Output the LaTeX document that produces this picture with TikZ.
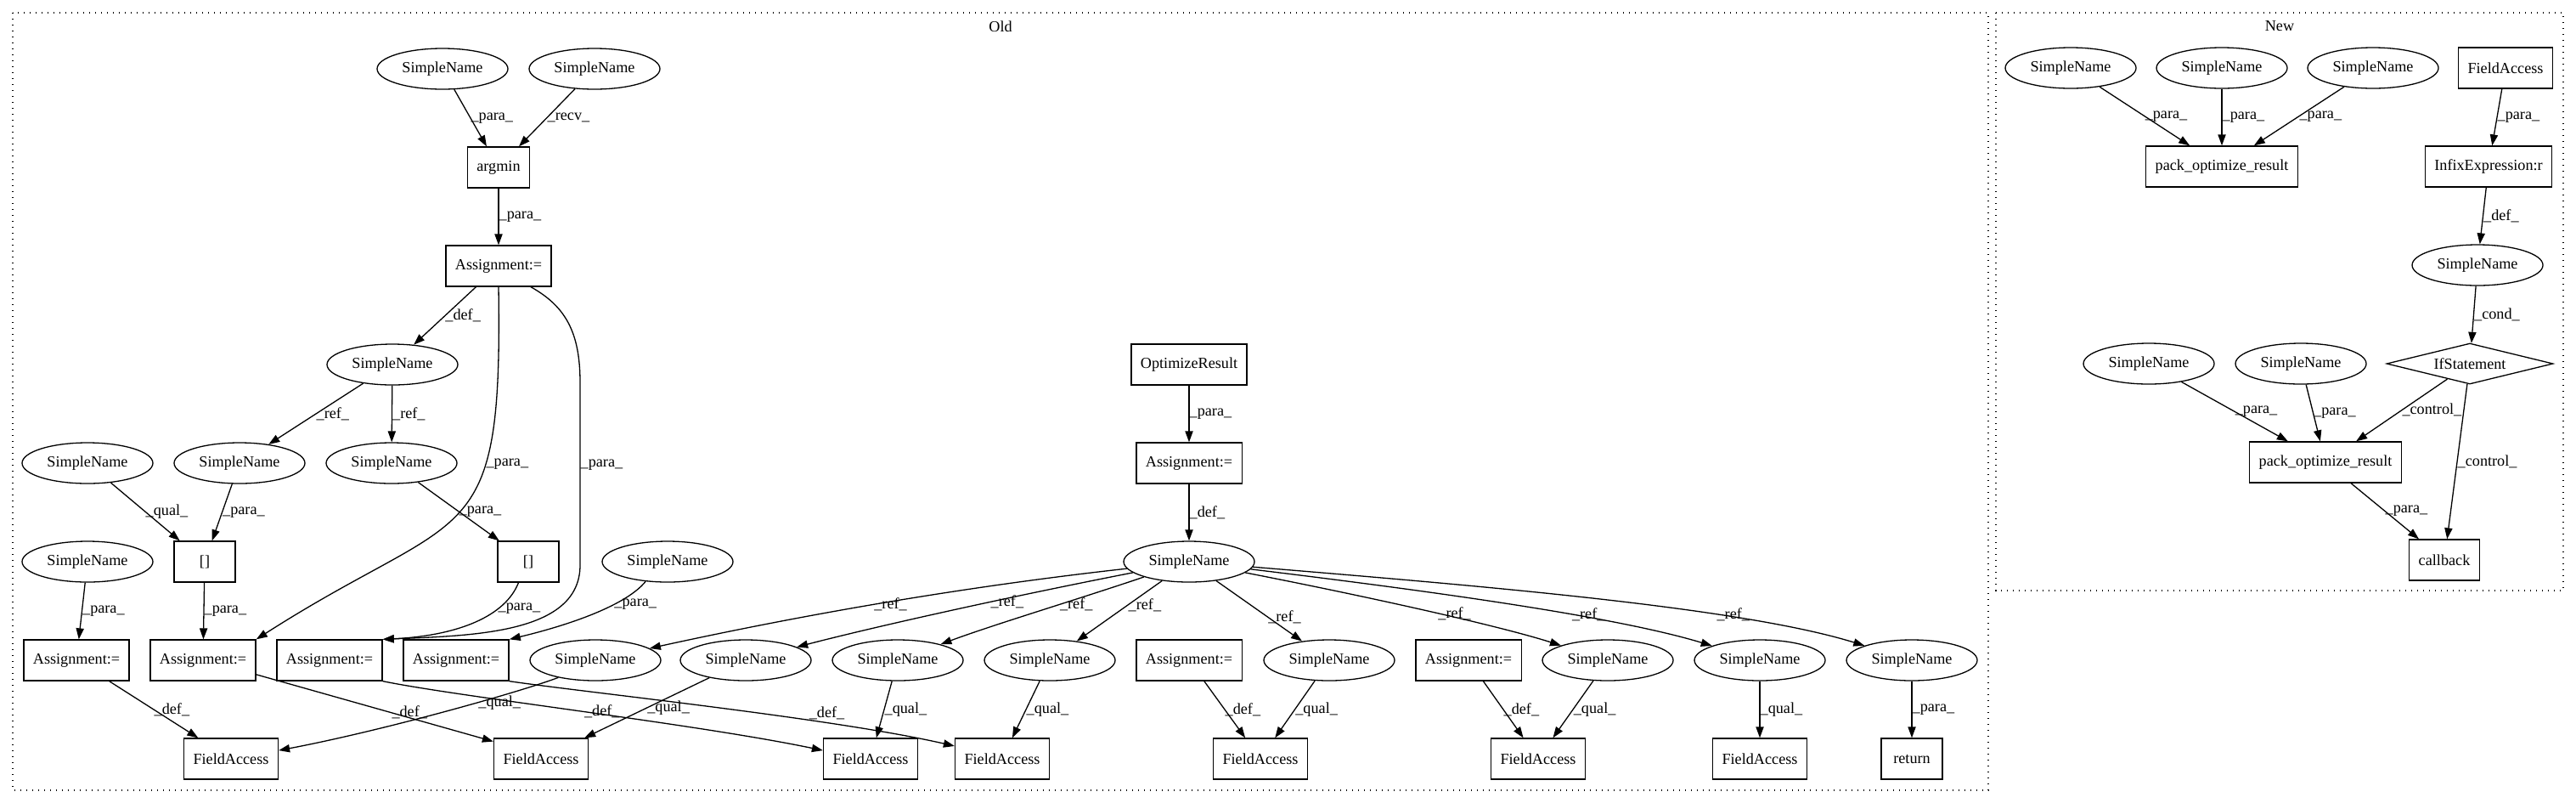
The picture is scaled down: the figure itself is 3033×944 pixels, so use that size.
\documentclass[tikz,border=0pt]{standalone}
\usepackage{fontspec}
\setmainfont{Liberation Serif}
\usetikzlibrary{arrows.meta, shapes.geometric}

\begin{document}
\begin{tikzpicture}[x=0.5pt, y=-0.5pt,
    every node/.style={font=\fontsize{9.1}{11}\selectfont},
    sn/.style={ellipse, draw, line width=0.65pt, minimum width=77pt, minimum height=24pt, inner sep=0pt},
    box/.style={rectangle, draw, line width=0.65pt, minimum width=36pt, minimum height=24pt, inner xsep=5.5pt, inner ysep=0pt},
    cond/.style={diamond, draw, line width=0.65pt, shape aspect=4, minimum width=98pt, minimum height=24pt, inner sep=0pt},
    arr/.style={-{Triangle[length=6.5pt, width=4.6pt]}, line width=0.65pt},
    lbl/.style={anchor=west, inner sep=0pt},
    cluster/.style={line width=0.65pt, dash pattern=on 0.7pt off 2.8pt}]

    \useasboundingbox (0,0) rectangle (3033,944);

    % Clusters
    \draw[cluster] (15,15) rectangle (2341,930);
    \draw[cluster] (2350,15) rectangle (3018,695);
    \node (oldTitle) at (1178,31) {Old};
    \node (newTitle) at (2684,31) {New};

    % Old: argmin part
    \node[sn] (snA) at (521,81) {SimpleName};
    \node[sn] (snB) at (700,81) {SimpleName};
    \node[box] (argmin) at (587,197) {argmin};
    \node[box] (asgTop) at (587,313) {Assignment:=};
    \node[sn] (snDef) at (462,429) {SimpleName};
    \node[sn] (snQual) at (103,545) {SimpleName};
    \node[sn] (snRefA) at (282,545) {SimpleName};
    \node[sn] (snRefB) at (461,545) {SimpleName};
    \node[sn] (snLeft) at (103,661) {SimpleName};
    \node[box] (idxA) at (241,661) {[]};
    \node[box] (idxB) at (622,661) {[]};
    \node[sn] (snRight) at (786,661) {SimpleName};
    \node[box] (aOne) at (90,777) {Assignment:=};
    \node[box] (aTwo) at (239,777) {Assignment:=};
    \node[box] (aThree) at (388,777) {Assignment:=};
    \node[box] (aFour) at (537,777) {Assignment:=};

    % Old: OptimizeResult part
    \node[box] (optRes) at (1400,429) {OptimizeResult};
    \node[box] (asgOpt) at (1400,545) {Assignment:=};
    \node[sn] (hub) at (1400,661) {SimpleName};
    \node[sn] (sOne) at (701,777) {SimpleName};
    \node[sn] (sTwo) at (878,777) {SimpleName};
    \node[sn] (sThree) at (1057,777) {SimpleName};
    \node[sn] (sFour) at (1236,777) {SimpleName};
    \node[box] (asgMid) at (1400,777) {Assignment:=};
    \node[sn] (sFive) at (1565,777) {SimpleName};
    \node[box] (asgRight) at (1729,777) {Assignment:=};
    \node[sn] (sSix) at (1893,777) {SimpleName};
    \node[sn] (sSeven) at (2072,777) {SimpleName};
    \node[sn] (sEight) at (2251,777) {SimpleName};

    % Old: bottom row
    \node[box] (faOne) at (272,893) {FieldAccess};
    \node[box] (faTwo) at (637,893) {FieldAccess};
    \node[box] (faThree) at (1025,893) {FieldAccess};
    \node[box] (faFour) at (1180,893) {FieldAccess};
    \node[box] (faFive) at (1484,893) {FieldAccess};
    \node[box] (faSix) at (1811,893) {FieldAccess};
    \node[box] (faSeven) at (2072,893) {FieldAccess};
    \node[box] (ret) at (2251,893) {return};

    % Old: edges
    \draw[arr] (snA) -- node[lbl] {\_para\_} (argmin);
    \draw[arr] (snB) -- node[lbl] {\_recv\_} (argmin);
    \draw[arr] (argmin) -- node[lbl] {\_para\_} (asgTop);
    \draw[arr] (asgTop) -- node[lbl] {\_def\_} (snDef);
    \draw[arr] (snDef) -- node[lbl] {\_ref\_} (snRefA);
    \draw[arr] (snDef) -- node[lbl] {\_ref\_} (snRefB);
    \draw[arr] (snQual) -- node[lbl] {\_qual\_} (idxA);
    \draw[arr] (snRefA) -- node[lbl] {\_para\_} (idxA);
    \draw[arr] (snRefB) -- node[lbl] {\_para\_} (idxB);
    \draw[arr] (asgTop.south) .. controls (592,655) and (549,594) .. node[lbl, pos=0.32] {\_para\_} (aTwo.north east);
    \draw[arr] (asgTop.-33) .. controls (665,360) and (683,390) .. (683,450)
        -- node[lbl, pos=0.45] {\_para\_} (683,665) .. controls (683,745) and (560,748) .. (aThree.north east);
    \draw[arr] (snLeft) -- node[lbl] {\_para\_} (aOne);
    \draw[arr] (idxA) -- node[lbl] {\_para\_} (aTwo);
    \draw[arr] (idxB.-115) .. controls (595,725) and (540,748) .. node[lbl, pos=0.3] {\_para\_} (aThree.north east);
    \draw[arr] (snRight.-138) .. controls (735,715) and (660,738) .. node[lbl, pos=0.32] {\_para\_} (aFour.north east);
    \draw[arr] (aOne) -- node[lbl] {\_def\_} (faOne);
    \draw[arr] (aTwo.-15) -- node[lbl, pos=0.57] {\_def\_} (faTwo.160);
    \draw[arr] (aThree.south east) .. controls (540,820) and (820,852) .. node[lbl] {\_def\_} (faThree.170);
    \draw[arr] (aFour.south east) .. controls (690,815) and (980,845) .. node[lbl, anchor=south west, pos=0.68] {\_def\_} (faFour.165);
    \draw[arr] (sOne.-155) .. controls (610,815) and (450,860) .. node[lbl, pos=0.38] {\_qual\_} (faOne.10);
    \draw[arr] (sTwo) -- node[lbl] {\_qual\_} (faTwo);
    \draw[arr] (sThree) -- node[lbl] {\_qual\_} (faThree);
    \draw[arr] (sFour) -- node[lbl] {\_qual\_} (faFour);
    \draw[arr] (optRes) -- node[lbl] {\_para\_} (asgOpt);
    \draw[arr] (asgOpt) -- node[lbl] {\_def\_} (hub);
    \draw[arr] (hub) .. controls (1139,690) and (952,722) .. node[lbl, pos=0.53] {\_ref\_} (sOne);
    \draw[arr] (hub) .. controls (1200,700) and (1040,735) .. node[lbl, pos=0.4] {\_ref\_} (sTwo);
    \draw[arr] (hub) .. controls (1270,705) and (1170,735) .. node[lbl, pos=0.4] {\_ref\_} (sThree);
    \draw[arr] (hub) -- node[lbl, pos=0.4] {\_ref\_} (sFour);
    \draw[arr] (hub) -- node[lbl, pos=0.6] {\_ref\_} (sFive);
    \draw[arr] (hub) .. controls (1600,700) and (1760,735) .. node[lbl, pos=0.55] {\_ref\_} (sSix);
    \draw[arr] (hub) .. controls (1680,695) and (1900,725) .. node[lbl, pos=0.63] {\_ref\_} (sSeven);
    \draw[arr] (hub) .. controls (1750,690) and (2050,715) .. node[lbl, pos=0.69] {\_ref\_} (sEight);
    \draw[arr] (asgMid) -- node[lbl] {\_def\_} (faFive);
    \draw[arr] (sFive) -- node[lbl] {\_qual\_} (faFive);
    \draw[arr] (asgRight) -- node[lbl] {\_def\_} (faSix);
    \draw[arr] (sSix) -- node[lbl] {\_qual\_} (faSix);
    \draw[arr] (sSeven) -- node[lbl] {\_qual\_} (faSeven);
    \draw[arr] (sEight) -- node[lbl] {\_para\_} (ret);

    % New
    \node[sn] (nOne) at (2438,80) {SimpleName};
    \node[sn] (nTwo) at (2616,80) {SimpleName};
    \node[sn] (nThree) at (2794,80) {SimpleName};
    \node[box] (faNew) at (2950,80) {FieldAccess};
    \node[box] (packA) at (2616,196) {pack\_optimize\_result};
    \node[box] (infix) at (2930,196) {InfixExpression:r};
    \node[sn] (snCond) at (2917,312) {SimpleName};
    \node[cond] (ifSt) at (2908,428) {IfStatement};
    \node[sn] (nFour) at (2530,428) {SimpleName};
    \node[sn] (nFive) at (2709,428) {SimpleName};
    \node[box] (packB) at (2738,544) {pack\_optimize\_result};
    \node[box] (callback) at (2878,659) {callback};

    % New: edges
    \draw[arr] (nOne) -- node[lbl] {\_para\_} (packA);
    \draw[arr] (nTwo) -- node[lbl] {\_para\_} (packA);
    \draw[arr] (nThree) -- node[lbl] {\_para\_} (packA);
    \draw[arr] (faNew) -- node[lbl] {\_para\_} (infix);
    \draw[arr] (infix) -- node[lbl] {\_def\_} (snCond);
    \draw[arr] (snCond) -- node[lbl] {\_cond\_} (ifSt);
    \draw[arr] (nFour) -- node[lbl] {\_para\_} (packB);
    \draw[arr] (nFive) -- node[lbl] {\_para\_} (packB);
    \draw[arr] (ifSt) -- node[lbl] {\_control\_} (packB);
    \draw[arr] (ifSt) -- node[lbl] {\_control\_} (callback);
    \draw[arr] (packB) -- node[lbl] {\_para\_} (callback);

\end{tikzpicture}
\end{document}
